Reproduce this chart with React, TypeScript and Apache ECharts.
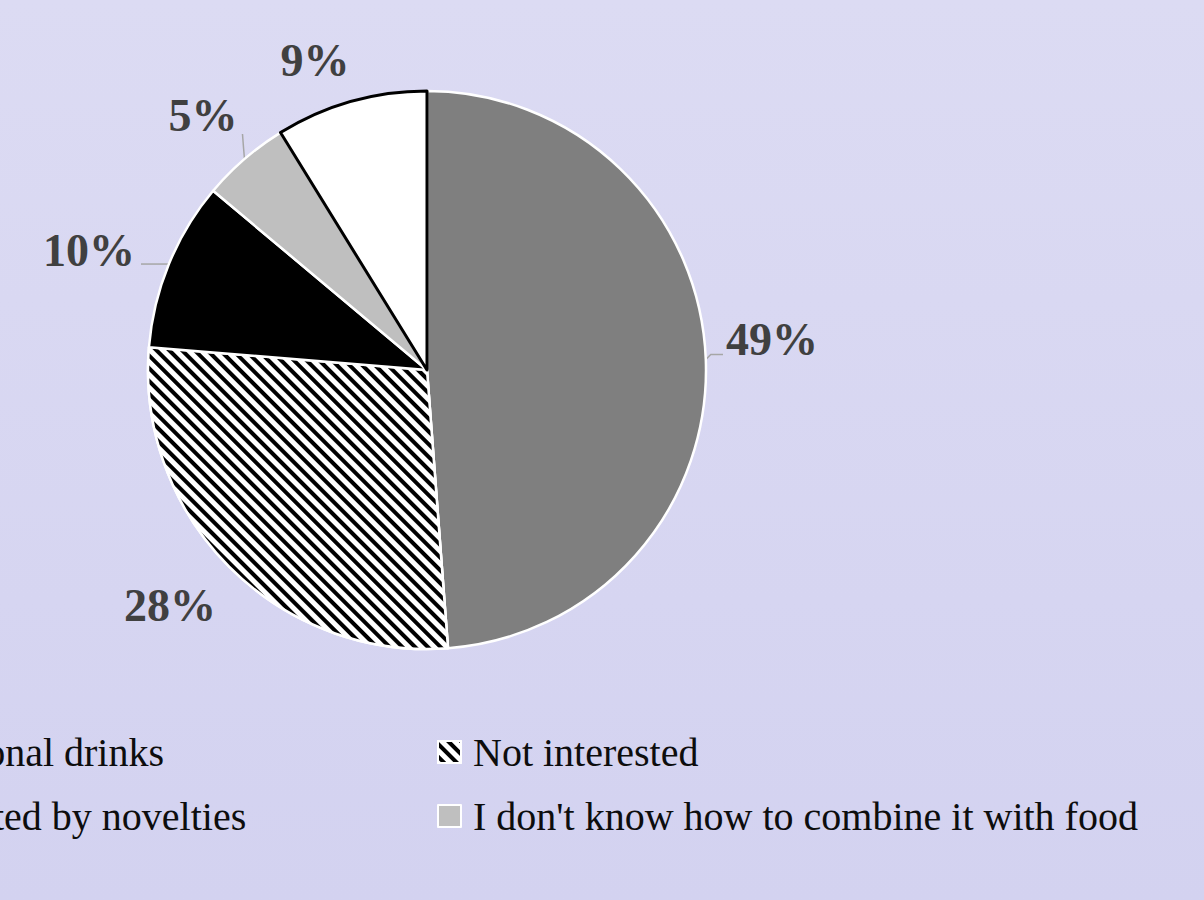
import React, { useEffect, useRef } from "react";
import * as echarts from "echarts";

const categories = [
  "I prefer traditional drinks",
  "Not interested",
  "I am not attracted by novelties",
  "I don't know how to combine it with food",
  "Other",
];
const values = [48.8, 27.5, 9.8, 5.1, 8.8];
const sliceColors = ["#7f7f7f", "#ffffff", "#000000", "#bfbfbf", "#ffffff"];
const labelCenters: [number, number][] = [
  [772, 339],
  [170, 605],
  [89, 250],
  [203, 115],
  [315, 60],
];
const showLeader = [true, false, true, true, false];

const FONT = '"Liberation Serif", "Times New Roman", serif';

export default function App() {
  const ref = useRef<HTMLDivElement>(null);
  useEffect(() => {
    if (!ref.current) return;
    const chart = echarts.init(ref.current, null, { renderer: "svg" });

    const legendFont = 40;
    const canvas = document.createElement("canvas");
    const ctx = canvas.getContext("2d")!;
    ctx.font = `${legendFont}px ${FONT}`;
    const w1 = ctx.measureText(categories[0]).width;
    const markerW = 23;
    const textPad = 7;
    const leftLegendX = 163 - w1 - 5 - textPad - markerW;

    const data = categories.map((name, i) => {
      const item: any = {
        name,
        value: values[i],
        itemStyle: {
          color: sliceColors[i],
          borderColor: i === 4 ? "#000000" : "#ffffff",
          borderWidth: i === 4 ? 3 : 2.5,
        },
        labelLine: { show: showLeader[i] },
      };
      if (i === 1) {
        item.itemStyle.decal = {
          symbol: "rect",
          symbolSize: 1,
          color: "#000000",
          backgroundColor: "#ffffff",
          dashArrayX: [1, 0],
          dashArrayY: [3.6, 4.9],
          rotation: Math.PI / 4,
        };
      }
      return item;
    });

    const legendCommon = {
      orient: "vertical",
      padding: 0,
      itemWidth: markerW,
      itemHeight: 22,
      itemGap: 22,
      icon: "rect",
      selectedMode: false,
      textStyle: {
        fontFamily: FONT,
        fontSize: legendFont,
        color: "#0d0d0d",
        lineHeight: 42,
        padding: [0, 0, 0, textPad],
      },
      itemStyle: { borderColor: "#ffffff", borderWidth: 2 },
    };

    chart.setOption({
      animation: false,
      backgroundColor: "transparent",
      legend: [
        {
          ...legendCommon,
          left: leftLegendX,
          top: 731,
          data: [categories[0], categories[2]],
        },
        {
          ...legendCommon,
          left: 437,
          top: 731,
          data: [categories[1], categories[3]],
        },
      ],
      series: [
        {
          type: "pie",
          center: [427, 370],
          radius: 279,
          startAngle: 90,
          clockwise: true,
          data,
          label: {
            show: true,
            position: "outside",
            formatter: (p: any) => `${Math.round(p.percent)}%`,
            fontFamily: FONT,
            fontWeight: "bold",
            fontSize: 46,
            color: "#404040",
          },
          labelLine: {
            show: true,
            length: 10,
            length2: 10,
            lineStyle: { color: "#a6a6a6", width: 1.5 },
          },
          labelLayout: (params: any) => {
            const i = params.dataIndex;
            const c = labelCenters[i];
            const w = params.labelRect.width;
            const h = params.labelRect.height;
            const res: any = {
              x: c[0],
              y: c[1],
              align: "center",
              verticalAlign: "middle",
            };
            const pts = params.labelLinePoints;
            if (pts && pts.length) {
              const p0 = pts[0];
              if (i === 0) {
                res.labelLinePoints = [
                  p0,
                  [p0[0] + 5, p0[1] - 5],
                  [c[0] - w / 2 - 3, p0[1] - 5],
                ];
              } else if (i === 2) {
                res.labelLinePoints = [
                  p0,
                  [p0[0] - 10, p0[1]],
                  [c[0] + w / 2 + 6, p0[1]],
                ];
              } else if (i === 3) {
                res.labelLinePoints = [
                  p0,
                  [p0[0] - 1, p0[1] - 12],
                  [p0[0] - 2, c[1] + h / 2 - 4],
                ];
              }
            }
            return res;
          },
          emphasis: { disabled: true },
        },
      ],
    });
    return () => chart.dispose();
  }, []);

  return (
    <div
      style={{
        position: "absolute",
        left: 0,
        top: 0,
        width: 1204,
        height: 900,
        background: "linear-gradient(180deg, #dcdbf3 0%, #d3d2f0 100%)",
      }}
    >
      <div ref={ref} style={{ width: 1204, height: 900 }} />
    </div>
  );
}
